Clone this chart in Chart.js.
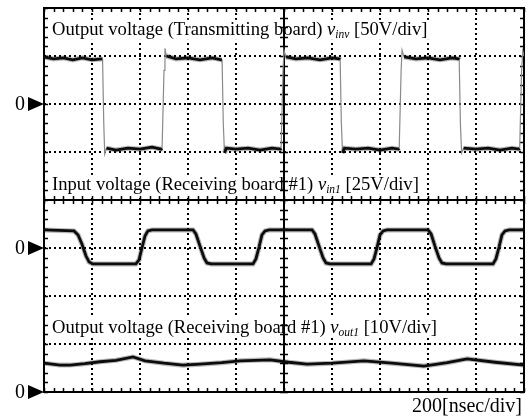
<!DOCTYPE html>
<html>
<head>
<meta charset="utf-8">
<script src="https://cdn.jsdelivr.net/npm/chart.js@4"></script>
<style>
  html, body { margin: 0; padding: 0; background: #fff; }
</style>
</head>
<body>
<canvas id="scope" width="528" height="417"></canvas>
<script>
// time axis: 200 ns/div, 10 divisions
const timeMin = 0;
const timeMax = 2000;
const timeStep = 200;

// channel settings: volts per division and where the zero marker sits (in divisions from centre)
const vinvPerDiv = 50;
const vinvZero = 2;
const vin1PerDiv = 25;
const vin1Zero = -1;
const vout1PerDiv = 10;
const vout1Zero = -4;

// output voltage of the transmitting board (ns, V)
const vinvT = [0, 40, 80, 120, 160, 200, 240, 244, 249, 253, 260, 300, 350, 400, 450, 488, 492, 500, 504, 510,
  550, 600, 650, 700, 740, 742, 747, 752, 760, 800, 850, 900, 950, 985, 988, 996, 1000, 1008,
  1050, 1100, 1150, 1200, 1230, 1234, 1239, 1244, 1252, 1300, 1350, 1400, 1450, 1476, 1480, 1488, 1492, 1500,
  1550, 1600, 1650, 1700, 1727, 1730, 1735, 1740, 1748, 1800, 1850, 1900, 1950, 1978, 1982, 1990, 1995, 2000];
const vinvV = [49, 47, 48, 46, 48, 46, 47, 47, -20, -52, -46, -48, -46, -47, -45, -47, -46, 35, 58, 50,
  47, 48, 46, 48, 46, 46, -20, -51, -46, -47, -46, -48, -46, -47, -46, 35, 56, 49,
  47, 48, 46, 48, 47, 46, -20, -51, -46, -47, -46, -48, -46, -47, -46, 35, 56, 49,
  47, 48, 46, 48, 47, 46, -20, -51, -46, -47, -46, -48, -46, -47, -46, 35, 55, 50];

// input voltage of receiving board #1 (ns, V)
const vin1T = [0, 125, 142, 158, 175, 188, 204, 383, 396, 408, 421, 433, 450,
  621, 633, 650, 667, 679, 696, 871, 883, 896, 908, 921, 938,
  1117, 1129, 1146, 1163, 1175, 1192, 1363, 1375, 1388, 1400, 1413, 1429,
  1600, 1613, 1629, 1646, 1658, 1675, 1871, 1883, 1896, 1908, 1921, 1938, 2000];
const vin1V = [9.4, 8.9, 6.8, 2.1, -4.2, -7.3, -8.3, -8.3, -6.2, 0, 6.3, 8.9, 9.4,
  9.4, 7.3, 1.0, -5.2, -7.8, -8.3, -8.3, -5.7, 0.5, 6.8, 8.9, 9.4,
  9.4, 7.3, 1.0, -5.2, -7.8, -8.3, -8.3, -5.7, 0.5, 6.8, 8.9, 9.4,
  9.4, 7.3, 1.0, -5.2, -7.8, -8.3, -8.3, -5.7, 0.5, 6.8, 8.9, 9.4, 9.4];

// output voltage of receiving board #1 (ns, V)
const vout1T = [0, 67, 108, 170, 233, 300, 371, 421, 500, 579, 650, 740, 817, 942, 1020, 1096, 1200, 1333, 1450, 1583, 1680, 1763, 1880, 2000];
const vout1V = [6.0, 5.6, 5.6, 5.9, 6.3, 6.6, 7.3, 6.5, 6.0, 5.6, 5.8, 6.1, 6.5, 6.7, 6.2, 5.8, 6.0, 6.5, 6.0, 5.4, 6.1, 6.9, 6.2, 5.6];

const channelLabels = [
  { zero: 3.44, parts: ['Output voltage (Transmitting board) ', 'v', 'inv', ' [50V/div]'] },
  { zero: 0.21, parts: ['Input voltage (Receiving board #1) ', 'v', 'in1', ' [25V/div]'] },
  { zero: -2.77, parts: ['Output voltage (Receiving board #1) ', 'v', 'out1', ' [10V/div]'] },
];

const toPoints = (ts, vs, perDiv, zero) => ts.map((t, i) => ({ x: t, y: zero + vs[i] / perDiv }));

const steep = (c) => Math.abs(c.p1.y - c.p0.y) > 2.5 * Math.abs(c.p1.x - c.p0.x);

const vinvPts = toPoints(vinvT, vinvV, vinvPerDiv, vinvZero);
const vin1Pts = toPoints(vin1T, vin1V, vin1PerDiv, vin1Zero);
const vout1Pts = toPoints(vout1T, vout1V, vout1PerDiv, vout1Zero);

function halo(data, fast) {
  return {
    data, borderColor: 'rgba(0,0,0,0.28)', borderWidth: 5, pointRadius: 0, tension: 0,
    segment: fast ? { borderColor: (c) => (steep(c) ? 'rgba(0,0,0,0)' : undefined) } : {},
  };
}
function core(data, fast) {
  return {
    data, borderColor: '#111', borderWidth: 2.8, pointRadius: 0, tension: 0,
    segment: fast ? {
      borderColor: (c) => (steep(c) ? '#8a8a8a' : undefined),
      borderWidth: (c) => (steep(c) ? 1.2 : undefined),
    } : {},
  };
}

const serif = '"Liberation Serif", "Times New Roman", serif';

function drawRichLabel(ctx, x, base, parts) {
  const fonts = [`18.6px ${serif}`, `italic 18.6px ${serif}`, `italic 11.5px ${serif}`, `18.6px ${serif}`];
  const shifts = [0, 0, 3, 0];
  let w = 0;
  parts.forEach((p, i) => { ctx.font = fonts[i]; w += ctx.measureText(p).width; });
  ctx.fillStyle = '#fff';
  ctx.fillRect(x - 4, base - 15, w + 7, 20);
  ctx.fillStyle = '#000';
  ctx.textBaseline = 'alphabetic';
  ctx.textAlign = 'left';
  let cx = x;
  parts.forEach((p, i) => {
    ctx.font = fonts[i];
    ctx.fillText(p, cx, base + shifts[i]);
    cx += ctx.measureText(p).width;
  });
}

const scopeFrame = {
  id: 'scopeFrame',
  beforeDatasetsDraw(chart) {
    const { ctx, chartArea: a, scales: { x, y } } = chart;
    ctx.save();
    channelLabels.forEach((l) => drawRichLabel(ctx, a.left + 8, y.getPixelForValue(l.zero), l.parts));

    ctx.strokeStyle = '#000';
    ctx.lineWidth = 2;
    ctx.strokeRect(a.left, a.top, a.right - a.left, a.bottom - a.top);
    const cx = x.getPixelForValue((timeMin + timeMax) / 2);
    const cy = y.getPixelForValue(0);
    ctx.beginPath();
    ctx.moveTo(cx, a.top); ctx.lineTo(cx, a.bottom);
    ctx.moveTo(a.left, cy); ctx.lineTo(a.right, cy);
    ctx.stroke();

    ctx.lineWidth = 1.5;
    ctx.beginPath();
    const L = 4;
    for (let t = timeMin; t <= timeMax; t += timeStep / 5) {
      const px = Math.round(x.getPixelForValue(t)) + 0.5;
      ctx.moveTo(px, a.top); ctx.lineTo(px, a.top + L);
      ctx.moveTo(px, a.bottom); ctx.lineTo(px, a.bottom - L);
      ctx.moveTo(px, cy - L); ctx.lineTo(px, cy + L);
    }
    for (let d = -20; d <= 20; d++) {
      const py = Math.round(y.getPixelForValue(d / 5)) + 0.5;
      ctx.moveTo(a.left, py); ctx.lineTo(a.left + L, py);
      ctx.moveTo(a.right, py); ctx.lineTo(a.right - L, py);
      ctx.moveTo(cx - L, py); ctx.lineTo(cx + L, py);
    }
    ctx.stroke();
    ctx.restore();
  },
  afterDraw(chart) {
    const { ctx, chartArea: a, scales: { y } } = chart;
    ctx.save();
    ctx.fillStyle = '#000';
    [vinvZero, vin1Zero, vout1Zero].forEach((z) => {
      const py = y.getPixelForValue(z);
      ctx.beginPath();
      ctx.moveTo(a.left, py);
      ctx.lineTo(a.left - 16, py - 7);
      ctx.lineTo(a.left - 16, py + 7);
      ctx.closePath();
      ctx.fill();
      ctx.font = `20px ${serif}`;
      ctx.textAlign = 'right';
      ctx.textBaseline = 'middle';
      ctx.fillText('0', a.left - 19, py + 1);
    });
    ctx.font = `20px ${serif}`;
    ctx.textAlign = 'right';
    ctx.textBaseline = 'alphabetic';
    ctx.fillText('200[nsec/div]', a.right - 2, a.bottom + 20);
    ctx.restore();
  },
};

new Chart(document.getElementById('scope'), {
  type: 'line',
  data: {
    datasets: [
      halo(vinvPts, true), core(vinvPts, true),
      halo(vin1Pts, false), core(vin1Pts, false),
      halo(vout1Pts, false), core(vout1Pts, false),
    ],
  },
  options: {
    responsive: false,
    animation: false,
    events: [],
    layout: { padding: { left: 44, top: 8, right: 4, bottom: 25 } },
    plugins: { legend: { display: false }, tooltip: { enabled: false } },
    scales: {
      x: {
        type: 'linear', min: timeMin, max: timeMax,
        ticks: { display: false, stepSize: timeStep },
        grid: { color: '#000', lineWidth: 2, drawTicks: false },
        border: { display: false, dash: [2, 3] },
      },
      y: {
        type: 'linear', min: -4, max: 4,
        ticks: { display: false, stepSize: 1 },
        grid: { color: '#000', lineWidth: 2, drawTicks: false },
        border: { display: false, dash: [2, 3] },
      },
    },
  },
  plugins: [scopeFrame],
});
</script>
</body>
</html>
